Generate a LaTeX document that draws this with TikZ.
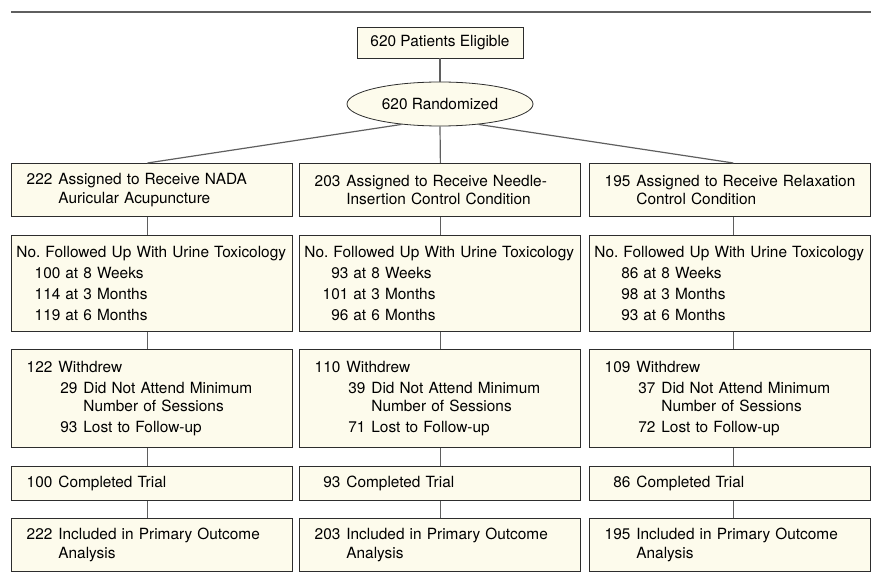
\documentclass[tikz,border=0pt]{standalone}
\usepackage{fontspec}
\setmainfont{TeX Gyre Heros}
\usetikzlibrary{shapes.geometric}

\definecolor{cream}{RGB}{253,251,236}
\definecolor{edgegray}{RGB}{45,45,45}
\definecolor{linkgray}{RGB}{95,95,95}

% numbers set flush right in their columns
\newcommand{\numA}[1]{\makebox[41pt][r]{#1}\hspace{6pt}}
\newcommand{\numB}[1]{\makebox[49pt][r]{#1}\hspace{5pt}}
\newcommand{\numC}[1]{\hspace*{47pt}\makebox[19pt][r]{#1}\hspace{6pt}}
\newcommand{\itemgap}{\\[2.5pt]}
\frenchspacing

\tikzset{
  txt/.style={font=\fontsize{15.4}{18.5}\selectfont},
  box/.style={txt, draw=edgegray, fill=cream, line width=0.8pt, anchor=north west,
    minimum width=281pt, text width=281pt, inner sep=0pt, align=left},
  link/.style={draw=linkgray, line width=1.2pt},
}

\begin{document}
\begin{tikzpicture}[x=1pt,y=-1pt]
  \useasboundingbox (0,0) rectangle (871,575);
  \draw[linkgray, line width=2pt] (11,12) -- (871,12);

  \node[txt, draw=edgegray, fill=cream, line width=0.8pt, minimum width=166pt, minimum height=31pt, inner sep=0pt] (elig) at (440,42.5) {620 Patients Eligible};
  \node[txt, ellipse, draw=edgegray, fill=cream, line width=0.8pt, minimum width=186pt, minimum height=44pt, inner sep=0pt] (rand) at (440,104) {620 Randomized};

  % assigned
  \node[box, minimum height=53pt] (assA) at (11,163) {\numA{222}Assigned to Receive NADA\\ \hspace*{47pt}Auricular Acupuncture};
  \node[box, minimum height=53pt] (assB) at (299,163) {\numA{203}Assigned to Receive Needle-\\ \hspace*{47pt}Insertion Control Condition};
  \node[box, minimum height=53pt] (assC) at (589,163) {\numA{195}Assigned to Receive Relaxation\\ \hspace*{47pt}Control Condition};

  % follow-up
  \node[box, minimum height=96pt] (folA) at (11,235) {\hspace*{5pt}No. Followed Up With Urine Toxicology\itemgap
    \numB{100}at 8 Weeks\itemgap \numB{114}at 3 Months\itemgap \numB{119}at 6 Months};
  \node[box, minimum height=96pt] (folB) at (299,235) {\hspace*{5pt}No. Followed Up With Urine Toxicology\itemgap
    \numB{93}at 8 Weeks\itemgap \numB{101}at 3 Months\itemgap \numB{96}at 6 Months};
  \node[box, minimum height=96pt] (folC) at (589,235) {\hspace*{5pt}No. Followed Up With Urine Toxicology\itemgap
    \numB{86}at 8 Weeks\itemgap \numB{98}at 3 Months\itemgap \numB{93}at 6 Months};

  % withdrew
  \node[box, minimum height=98pt] (wdrA) at (11,349) {\numA{122}Withdrew\itemgap
    \numC{29}Did Not Attend Minimum\\ \hspace*{72pt}Number of Sessions\itemgap \numC{93}Lost to Follow-up};
  \node[box, minimum height=98pt] (wdrB) at (299,349) {\numA{110}Withdrew\itemgap
    \numC{39}Did Not Attend Minimum\\ \hspace*{72pt}Number of Sessions\itemgap \numC{71}Lost to Follow-up};
  \node[box, minimum height=98pt] (wdrC) at (589,349) {\numA{109}Withdrew\itemgap
    \numC{37}Did Not Attend Minimum\\ \hspace*{72pt}Number of Sessions\itemgap \numC{72}Lost to Follow-up};

  % completed
  \node[box, minimum height=34pt] (cmpA) at (11,466) {\numA{100}Completed Trial};
  \node[box, minimum height=34pt] (cmpB) at (299,466) {\numA{93}Completed Trial};
  \node[box, minimum height=34pt] (cmpC) at (589,466) {\numA{86}Completed Trial};

  % included
  \node[box, minimum height=53pt] (incA) at (11,518) {\numA{222}Included in Primary Outcome\\ \hspace*{47pt}Analysis};
  \node[box, minimum height=53pt] (incB) at (299,518) {\numA{203}Included in Primary Outcome\\ \hspace*{47pt}Analysis};
  \node[box, minimum height=53pt] (incC) at (589,518) {\numA{195}Included in Primary Outcome\\ \hspace*{47pt}Analysis};

  \draw[link] (elig) -- (rand);
  \draw[link] (rand.-152) -- ([xshift=-4.5pt]assA.north);
  \draw[link] (rand.south) -- ([xshift=0.5pt]assB.north);
  \draw[link] (rand.-28) -- ([xshift=3.5pt]assC.north);

  \foreach \c/\o in {A/-4.5, B/0.5, C/3.5} {
    \foreach \u/\v in {ass/fol, fol/wdr, wdr/cmp, cmp/inc} {
      \draw[link] ([xshift=\o pt]\u\c.south) -- ([xshift=\o pt]\v\c.north);
    }
  }
\end{tikzpicture}
\end{document}
